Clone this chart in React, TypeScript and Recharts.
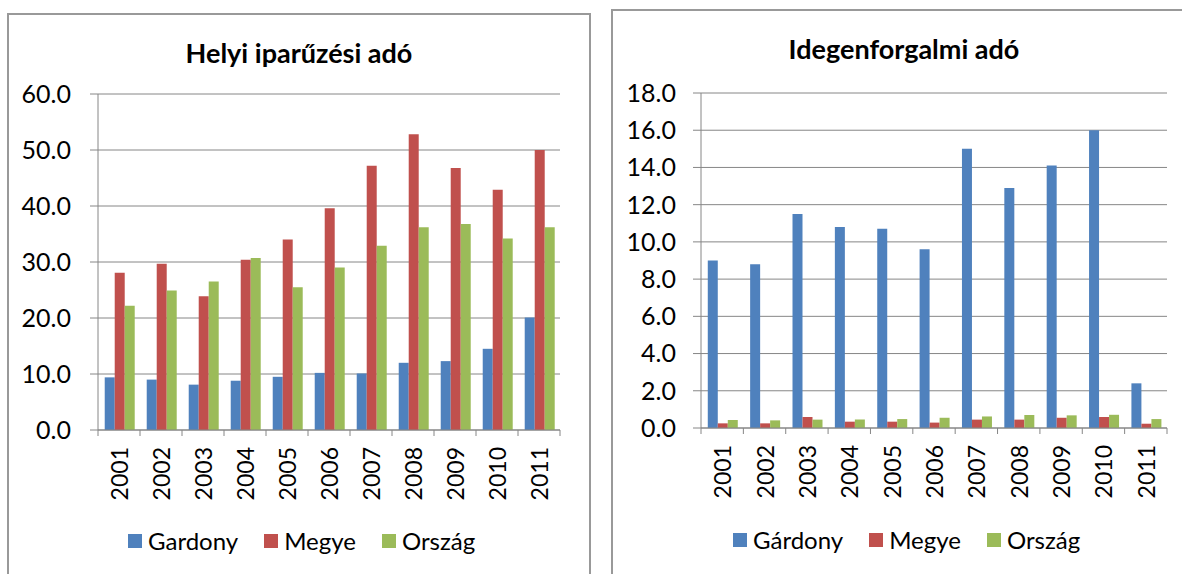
import { BarChart, Bar, XAxis, YAxis, CartesianGrid, Legend } from "recharts";

const years = ["2001", "2002", "2003", "2004", "2005", "2006", "2007", "2008", "2009", "2010", "2011"];

// Helyi iparűzési adó
const ipaGardony = [9.4, 9.0, 8.1, 8.8, 9.5, 10.2, 10.1, 12.0, 12.3, 14.5, 20.1];
const ipaMegye = [28.1, 29.7, 23.9, 30.4, 34.0, 39.6, 47.2, 52.8, 46.8, 42.9, 50.0];
const ipaOrszag = [22.2, 24.9, 26.5, 30.7, 25.5, 29.0, 32.9, 36.2, 36.8, 34.2, 36.2];
const ipaTicks = [0, 10, 20, 30, 40, 50, 60];

// Idegenforgalmi adó
const ifaGardony = [9.0, 8.8, 11.5, 10.8, 10.7, 9.6, 15.0, 12.9, 14.1, 16.0, 2.4];
const ifaMegye = [0.25, 0.25, 0.59, 0.34, 0.34, 0.29, 0.45, 0.45, 0.55, 0.59, 0.23];
const ifaOrszag = [0.43, 0.41, 0.45, 0.46, 0.48, 0.55, 0.62, 0.7, 0.68, 0.71, 0.48];
const ifaTicks = [0, 2, 4, 6, 8, 10, 12, 14, 16, 18];

const BLUE = "#4F81BD";
const RED = "#C0504D";
const GREEN = "#9BBB59";
const GRID = "#868686";
const FONT = "Lato, 'Noto Sans', sans-serif";

const ipaData = years.map((year, i) => ({
  year,
  gardony: ipaGardony[i],
  megye: ipaMegye[i],
  orszag: ipaOrszag[i],
}));

const ifaData = years.map((year, i) => ({
  year,
  gardony: ifaGardony[i],
  megye: ifaMegye[i],
  orszag: ifaOrszag[i],
}));

// Excel style category ticks: marks on the band edges, labels turned up
const YearTick = (props: any) => {
  const { x, y, payload, index, visibleTicksCount } = props;
  const half = payload.offset ?? 21;
  const axisY = y - 6;
  const edge = payload.coordinate - half;
  const last = index === visibleTicksCount - 1;
  return (
    <g>
      <line x1={edge} x2={edge} y1={axisY} y2={axisY + 6} stroke={GRID} />
      {last && (
        <line x1={payload.coordinate + half} x2={payload.coordinate + half} y1={axisY} y2={axisY + 6} stroke={GRID} />
      )}
      <text
        x={x}
        y={axisY + 17}
        transform={`rotate(-90, ${x}, ${axisY + 17})`}
        textAnchor="end"
        dominantBaseline="central"
        fill="#000"
        fontSize={23}
        fontFamily={FONT}
      >
        {payload.value}
      </text>
    </g>
  );
};

const renderLegend = (props: any) => {
  const { payload } = props;
  return (
    <div style={{ display: "flex", alignItems: "center", fontFamily: FONT, fontSize: 24, lineHeight: "28px", color: "#000" }}>
      {payload.map((entry: any, i: number) => (
        <div key={`item-${i}`} style={{ display: "flex", alignItems: "center", marginRight: 26 }}>
          <span style={{ width: 14, height: 14, background: entry.color, marginRight: 6, display: "inline-block" }} />
          <span>{entry.value}</span>
        </div>
      ))}
    </div>
  );
};

type PanelProps = {
  data: any[];
  ticks: number[];
  firstName: string;
  left: number;
  width: number;
  margin: { top: number; right: number; bottom: number; left: number };
  legendLeft: number;
  legendTop: number;
  tickMargin: number;
};

function Panel({ data, ticks, firstName, left, width, margin, legendLeft, legendTop, tickMargin }: PanelProps) {
  return (
    <div style={{ position: "absolute", left, top: 0 }}>
      <BarChart width={width} height={574} data={data} margin={margin} barCategoryGap="16%" barGap={0}>
        <CartesianGrid vertical={false} stroke={GRID} />
        <XAxis
          dataKey="year"
          interval={0}
          height={80}
          axisLine={{ stroke: GRID }}
          tickLine={false}
          tickSize={6}
          tickMargin={0}
          tick={<YearTick />}
        />
        <YAxis
          width={60}
          domain={[ticks[0], ticks[ticks.length - 1]]}
          ticks={ticks}
          interval={0}
          axisLine={{ stroke: GRID }}
          tickLine={{ stroke: GRID }}
          tickSize={8}
          tickMargin={tickMargin}
          tickFormatter={(v: number) => v.toFixed(1)}
          tick={{ fill: "#000", fontSize: 25, fontFamily: FONT }}
        />
        <Legend
          layout="horizontal"
          verticalAlign="middle"
          content={renderLegend}
          wrapperStyle={{ position: "absolute", left: legendLeft, top: legendTop, width: "auto" }}
        />
        <Bar dataKey="gardony" name={firstName} fill={BLUE} isAnimationActive={false} />
        <Bar dataKey="megye" name="Megye" fill={RED} isAnimationActive={false} />
        <Bar dataKey="orszag" name="Ország" fill={GREEN} isAnimationActive={false} />
      </BarChart>
    </div>
  );
}

const titleStyle: React.CSSProperties = {
  position: "absolute",
  fontFamily: FONT,
  fontWeight: 700,
  fontSize: 27,
  color: "#000",
  textAlign: "center",
  lineHeight: "30px",
  whiteSpace: "nowrap",
};

export default function App() {
  return (
    <div style={{ position: "absolute", left: 0, top: 0, width: 1182, height: 574, overflow: "hidden", background: "#fff" }}>
      <div style={{ position: "absolute", left: 7, top: 13, width: 580, height: 561, border: "2px solid #999", borderBottom: "none" }} />
      <div style={{ position: "absolute", left: 611, top: 9, width: 580, height: 565, border: "2px solid #999", borderBottom: "none", borderRight: "none" }} />
      <div style={{ ...titleStyle, left: 99, width: 400, top: 38 }}>Helyi iparűzési adó</div>
      <div style={{ ...titleStyle, left: 704, width: 400, top: 34 }}>Idegenforgalmi adó</div>
      <Panel
        data={ipaData}
        ticks={ipaTicks}
        firstName="Gardony"
        left={0}
        width={590}
        margin={{ top: 94, right: 30, bottom: 64, left: 38 }}
        legendLeft={128}
        legendTop={527}
        tickMargin={19}
      />
      <Panel
        data={ifaData}
        ticks={ifaTicks}
        firstName="Gárdony"
        left={600}
        width={582}
        margin={{ top: 93, right: 15, bottom: 66, left: 41 }}
        legendLeft={133}
        legendTop={526}
        tickMargin={17}
      />
    </div>
  );
}
